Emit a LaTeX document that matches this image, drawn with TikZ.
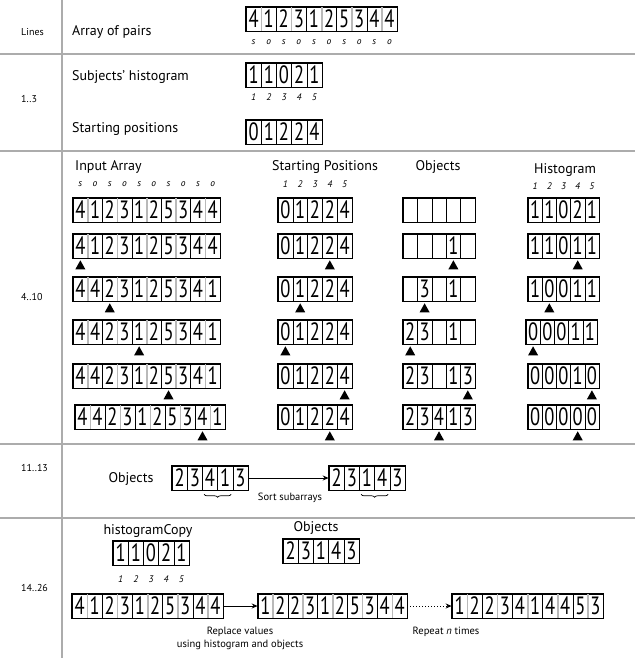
\documentclass[tikz,border=0pt]{standalone}
\usepackage{fontspec}
\setmainfont{PT Sans}
\newfontfamily\digitfont[FakeStretch=0.74]{PT Sans}
\usetikzlibrary{decorations.pathreplacing,arrows.meta}

\tikzset{
  cell/.style={draw, line width=0.6pt, minimum height=24pt, inner sep=0pt,
    font=\digitfont\fontsize{25}{25}\selectfont},
  arrbox/.style={line width=1.3pt},
  pairsep/.style={gray!55, line width=1.6pt},
  rule/.style={gray!65, line width=1.5pt},
  txt/.style={font=\fontsize{14}{16}\selectfont, inner sep=0pt},
  lbl/.style={font=\fontsize{10}{12}\selectfont, inner sep=0pt, anchor=west},
  idx/.style={font=\itshape\fontsize{9.5}{10}\selectfont, inner sep=0pt},
  note/.style={font=\fontsize{10.5}{13}\selectfont, inner sep=0pt, align=center},
  flow/.style={-{Stealth[length=6pt,width=5pt]}, line width=1pt},
  ptrmark/.style={fill=black},
  subbrace/.style={decorate, decoration={brace, mirror, amplitude=3pt}, line width=0.7pt}
}

% name, left x, centre y, cell width, number of cells, values
\newcommand{\cellrow}[6]{%
  \foreach \val [count=\ci] in {#6}{
    \node[cell, minimum width=#4pt] (#1-\ci) at ({#2+(\ci-0.5)*#4}, #3) {\val};
  }
  \draw[arrbox] (#1-1.north west) rectangle (#1-#5.south east);
}
% array of (subject, object) pairs
\newcommand{\pairrow}[5]{%
  \cellrow{#1}{#2}{#3}{#4}{10}{#5}
  \foreach \ci in {1,3,5,7,9}{
    \draw[pairsep] (#1-\ci.north east) -- (#1-\ci.south east);
  }
  \draw[arrbox] (#1-1.north west) rectangle (#1-10.south east);
}
% small italic labels under or over the cells
\newcommand{\idxrow}[3]{%
  \foreach \lab [count=\ci] in {#3}{
    \node[idx] (#1-lab\ci) at (#1-\ci |- 0,#2) {\lab};
  }
}
% pointer below a cell
\newcommand{\markcell}[1]{%
  \fill[ptrmark] ([yshift=-2pt]#1.south) -- ++(-5,9) -- ++(10,0) -- cycle;
}

\begin{document}
\begin{tikzpicture}[x=1pt, y=-1pt]
\useasboundingbox (0,0) rectangle (635,658);

% table rules
\draw[rule] (62,0) -- (62,658);
\draw[rule] (0,54) -- (635,54);
\draw[rule] (0,151) -- (635,151);
\draw[rule] (0,444) -- (635,444);
\draw[rule] (0,518) -- (635,518);

% header
\node[lbl] (linesTxt) at (21,32) {Lines};
\node[txt, anchor=west] (pairsTxt) at (72,32) {Array of pairs};
\pairrow{pairs}{246}{19}{15.1}{4,1,2,3,1,2,5,3,4,4}
\idxrow{pairs}{42}{s,o,s,o,s,o,s,o,s,o}

% lines 1..3
\node[lbl] (l13) at (21,99) {1..3};
\node[txt, anchor=west] (subjTxt) at (72,77) {Subjects' histogram};
\cellrow{shist}{246}{75}{15.2}{5}{1,1,0,2,1}
\idxrow{shist}{97}{1,2,3,4,5}
\node[txt, anchor=west] (startTxt) at (72,129) {Starting positions};
\cellrow{spos}{246}{132}{15.2}{5}{0,1,2,2,4}

% lines 4..10
\node[lbl] (l410) at (21,297) {4..10};
\node[txt, anchor=west] (inTxt) at (75,167) {Input Array};
\node[txt, anchor=west] (spTxt) at (272,167) {Starting Positions};
\node[txt] (obTxt) at (438,167) {Objects};
\node[txt] (hiTxt) at (565,170) {Histogram};

\pairrow{in1}{73}{210}{14.7}{4,1,2,3,1,2,5,3,4,4}
\pairrow{in2}{73}{246}{14.7}{4,1,2,3,1,2,5,3,4,4}
\pairrow{in3}{73}{289}{14.7}{4,4,2,3,1,2,5,3,4,1}
\pairrow{in4}{73}{332}{14.7}{4,4,2,3,1,2,5,3,4,1}
\pairrow{in5}{73}{376}{14.7}{4,4,2,3,1,2,5,3,4,1}
\pairrow{in6}{75}{417}{15}{4,4,2,3,1,2,5,3,4,1}
\idxrow{in1}{184}{s,o,s,o,s,o,s,o,s,o}

\cellrow{sp1}{278}{210}{14.8}{5}{0,1,2,2,4}
\cellrow{sp2}{278}{246}{14.8}{5}{0,1,2,2,4}
\cellrow{sp3}{278}{289}{14.8}{5}{0,1,2,2,4}
\cellrow{sp4}{278}{332}{14.8}{5}{0,1,2,2,4}
\cellrow{sp5}{278}{376}{14.8}{5}{0,1,2,2,4}
\cellrow{sp6}{278}{417}{14.8}{5}{0,1,2,2,4}
\idxrow{sp1}{184}{1,2,3,4,5}

\cellrow{ob1}{403}{210}{14.4}{5}{{},{},{},{},{}}
\cellrow{ob2}{403}{246}{14.4}{5}{{},{},{},1,{}}
\cellrow{ob3}{403}{289}{14.4}{5}{{},3,{},1,{}}
\cellrow{ob4}{403}{332}{14.4}{5}{2,3,{},1,{}}
\cellrow{ob5}{403}{376}{14.4}{5}{2,3,{},1,3}
\cellrow{ob6}{403}{417}{14.4}{5}{2,3,4,1,3}

\cellrow{hi1}{528}{210}{14.2}{5}{1,1,0,2,1}
\cellrow{hi2}{528}{246}{14.2}{5}{1,1,0,1,1}
\cellrow{hi3}{528}{289}{14.2}{5}{1,0,0,1,1}
\cellrow{hi4}{526}{332}{14.2}{5}{0,0,0,1,1}
\cellrow{hi5}{528}{376}{14.2}{5}{0,0,0,1,0}
\cellrow{hi6}{528}{417}{14.2}{5}{0,0,0,0,0}
\idxrow{hi1}{186}{1,2,3,4,5}

\markcell{in2-1} \markcell{sp2-4} \markcell{ob2-4} \markcell{hi2-4}
\markcell{in3-3} \markcell{sp3-2} \markcell{ob3-2} \markcell{hi3-2}
\markcell{in4-5} \markcell{sp4-1} \markcell{ob4-1} \markcell{hi4-1}
\markcell{in5-7} \markcell{sp5-5} \markcell{ob5-5} \markcell{hi5-5}
\markcell{in6-9} \markcell{sp6-4} \markcell{ob6-3} \markcell{hi6-4}

% lines 11..13
\node[lbl] (l1113) at (21,468) {11..13};
\node[txt] (objD) at (131,479) {Objects};
\cellrow{srtA}{172}{478}{15.2}{5}{2,3,4,1,3}
\cellrow{srtB}{329}{478}{15.2}{5}{2,3,1,4,3}
\draw[flow] (srtA-5.east) -- (srtB-1.west);
\draw[subbrace] ([xshift=2pt,yshift=-4pt]srtA-3.south west) -- ([xshift=-2pt,yshift=-4pt]srtA-4.south east);
\draw[subbrace] ([xshift=2pt,yshift=-4pt]srtB-3.south west) -- ([xshift=-2pt,yshift=-4pt]srtB-4.south east);
\node[note] (sortTxt) at (290,498) {Sort subarrays};

% lines 14..26
\node[lbl] (l1426) at (21,588) {14..26};
\node[txt] (hcTxt) at (148,531) {histogramCopy};
\cellrow{hc}{113}{553}{15.2}{5}{1,1,0,2,1}
\idxrow{hc}{579}{1,2,3,4,5}
\node[txt] (objE) at (316,528) {Objects};
\cellrow{obE}{283}{551}{15.2}{5}{2,3,1,4,3}

\pairrow{rA}{72}{606}{15.1}{4,1,2,3,1,2,5,3,4,4}
\pairrow{rB}{258}{606}{14.9}{1,2,2,3,1,2,5,3,4,4}
\pairrow{rC}{452}{606}{15.1}{1,2,2,3,4,1,4,4,5,3}
\draw[flow] (rA-10.east) -- (rB-1.west);
\draw[flow, dotted] (rB-10.east) -- (rC-1.west);
\node[note] (replTxt) at (240,638) {Replace values\\using histogram and objects};
\node[note] (rptTxt) at (446,632) {Repeat \textit{n} times};
\end{tikzpicture}
\end{document}
